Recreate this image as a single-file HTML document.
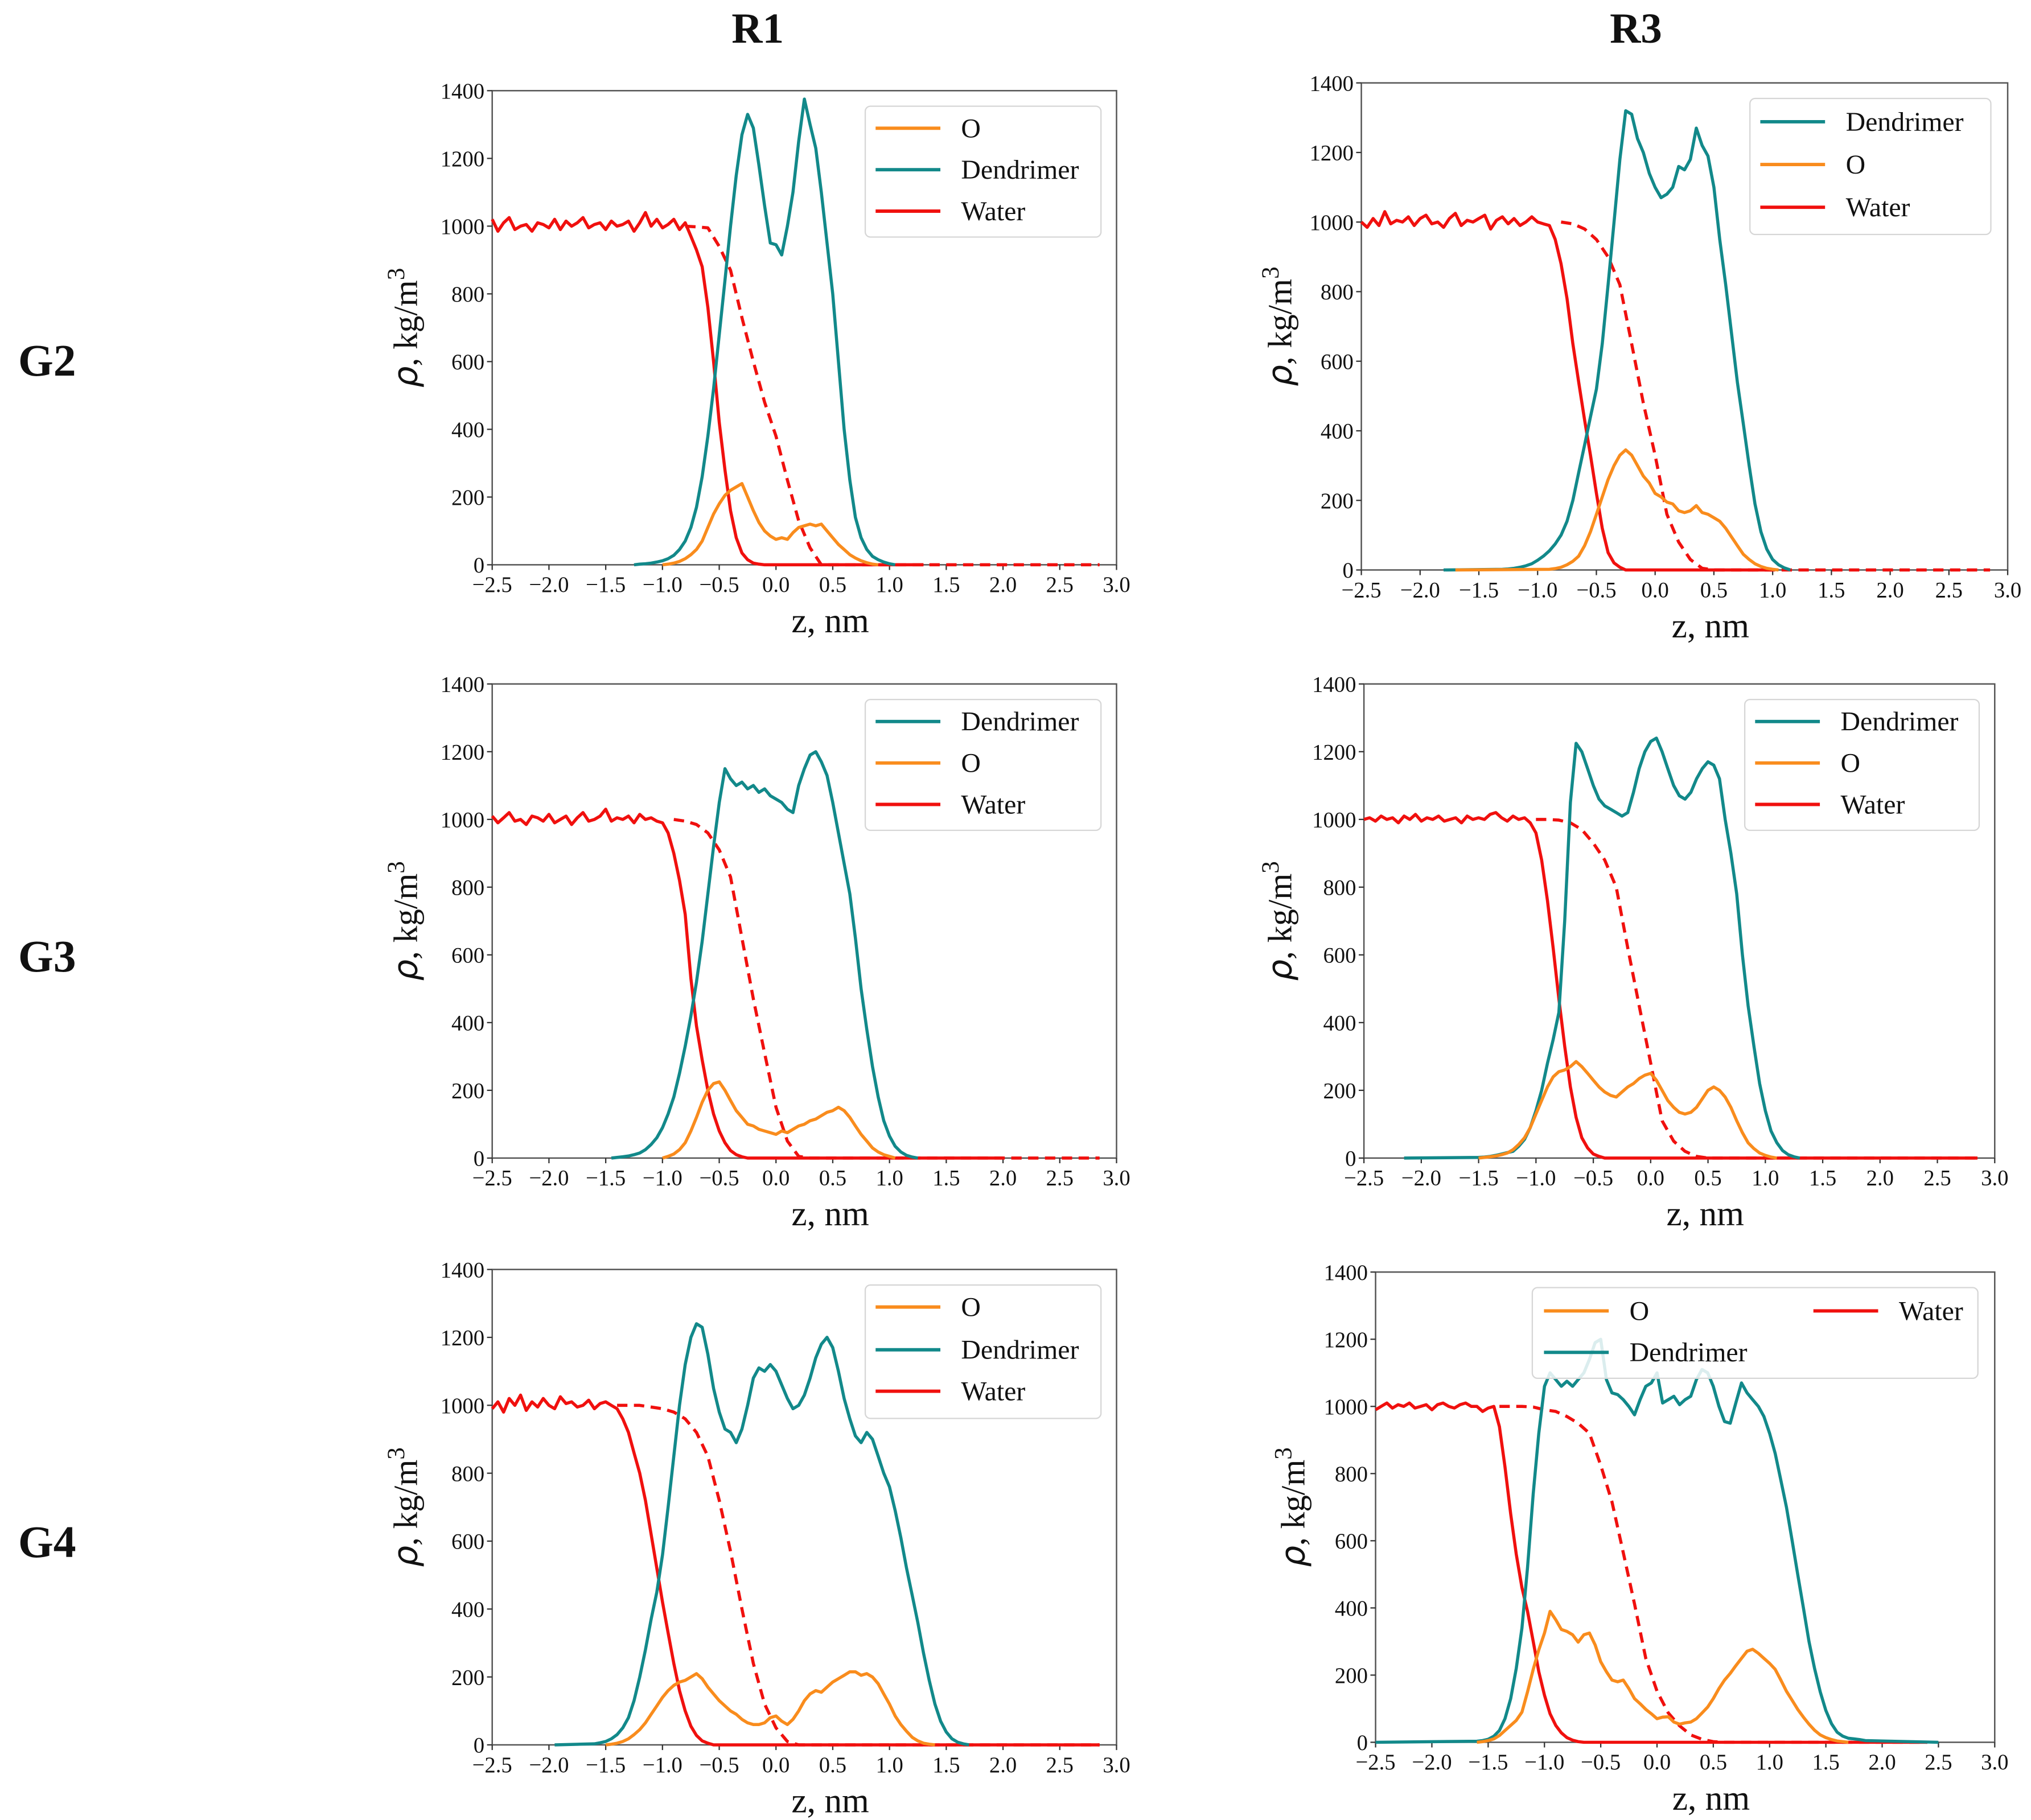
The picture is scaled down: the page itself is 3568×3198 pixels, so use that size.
<!DOCTYPE html>
<html><head><meta charset="utf-8"><style>
html,body{margin:0;padding:0;background:#fff;}
svg{display:block;}
text{font-family:"Liberation Serif",serif;fill:#111;}
</style></head>
<body>
<svg id="fig" xmlns="http://www.w3.org/2000/svg" width="3568" height="3198" viewBox="0 0 1568 1405" preserveAspectRatio="none">
<rect x="0" y="0" width="1568" height="1405" fill="#fff"/>
<text x="585" y="33" font-size="33" font-weight="bold" text-anchor="middle">R1</text>
<text x="1263" y="33" font-size="33" font-weight="bold" text-anchor="middle">R3</text>
<text x="14" y="290" font-size="35" font-weight="bold">G2</text>
<text x="14" y="750" font-size="35" font-weight="bold">G3</text>
<text x="14" y="1202" font-size="35" font-weight="bold">G4</text>
<g id="panels"></g>
</svg>
<script>
// ---------- DATA (z grid: start + 0.05 step; dashed: 0.1 step) ----------
const xTicks = [-2.5,-2.0,-1.5,-1.0,-0.5,0.0,0.5,1.0,1.5,2.0,2.5,3.0];
const yTicks = [0,200,400,600,800,1000,1200,1400];

// Panel 1: R1 G2
const p1Water = [1020,985,1010,1025,990,1000,1005,985,1010,1005,995,1020,990,1015,1000,1010,1025,995,1005,1010,990,1015,1000,1005,1015,985,1010,1040,1000,1020,995,1005,1020,990,1010,970,930,880,760,600,420,280,160,80,35,15,5,2,0];
const p1Dashed = [1000,998,995,940,870,730,600,480,380,250,130,50,0];
const p1Den = [0,2,3,5,8,12,18,28,45,70,110,170,260,380,520,680,840,1000,1150,1270,1330,1290,1180,1060,950,945,915,1000,1100,1250,1375,1300,1230,1100,950,800,600,400,250,140,80,45,25,15,8,3,0];
const p1O = [0,2,5,10,18,30,45,70,110,150,180,205,220,230,240,200,160,125,100,85,75,80,75,95,110,115,120,115,120,100,80,60,45,30,20,12,6,2,0];

// Panel 2: R3 G2
const p2Water = [1000,985,1010,990,1030,995,1005,1000,1015,990,1010,1020,995,1000,985,1010,1025,990,1005,1000,1010,1020,980,1005,1015,995,1010,990,1000,1015,1000,995,990,950,880,780,650,540,430,330,220,120,50,20,8,0];
const p2Dashed = [1000,995,980,950,900,820,650,480,330,160,80,30,5,0];
const p2Den = [2,3,5,8,12,18,28,40,55,75,100,140,200,280,360,440,520,650,820,1000,1180,1320,1310,1240,1200,1140,1100,1070,1080,1100,1160,1150,1180,1270,1220,1190,1100,950,820,680,540,420,300,190,110,60,30,15,6,0];
const p2O = [2,4,8,15,25,40,70,110,160,210,260,300,330,345,330,300,270,250,220,210,195,190,170,165,170,185,165,160,150,140,120,95,70,45,30,18,10,5,2,0];

// Panel 3: R1 G3
const p3Water = [1010,990,1005,1020,995,1000,985,1010,1005,995,1015,990,1000,1010,985,1005,1020,995,1000,1010,1030,995,1005,1000,1010,990,1015,1000,1005,995,990,960,900,820,720,530,390,290,200,130,80,45,22,10,4,0];
const p3Dashed = [1000,995,985,960,910,830,650,470,310,150,50,5,0];
const p3Den = [0,2,4,6,10,15,25,40,60,90,130,180,250,330,420,520,640,780,920,1050,1150,1120,1100,1110,1090,1100,1080,1090,1070,1060,1050,1030,1020,1100,1150,1190,1200,1170,1130,1050,960,870,780,650,500,380,270,180,110,65,35,18,8,3,0];
const p3O = [0,5,12,25,45,80,120,165,200,220,225,200,170,140,120,100,95,85,80,75,70,80,75,85,95,100,110,115,125,135,140,150,140,120,95,70,50,30,18,10,5,0];

// Panel 4: R3 G3
const p4Water = [1000,1005,995,1010,1000,1005,990,1010,1000,1015,995,1005,1000,1010,995,1000,1005,990,1010,1000,1005,1000,1015,1020,1005,995,1010,1000,1005,990,960,880,760,620,470,330,210,120,60,30,12,5,0];
const p4Dashed = [1000,1000,998,990,970,930,880,800,620,450,280,110,50,20,5,0];
const p4Den = [2,3,5,8,12,16,20,35,55,90,140,200,280,350,430,700,1050,1225,1200,1150,1100,1060,1040,1030,1020,1010,1020,1080,1150,1200,1230,1240,1200,1150,1100,1070,1060,1080,1120,1150,1170,1160,1120,1000,900,780,600,450,330,220,140,80,45,22,10,4,0];
const p4O = [0,2,4,6,10,15,25,40,60,90,130,170,210,240,255,260,270,285,270,250,230,210,195,185,180,195,210,220,235,245,250,230,200,170,150,135,130,135,150,175,200,210,200,180,150,110,75,45,28,15,8,3,0];

// Panel 5: R1 G4
const p5Water = [990,1010,980,1020,1000,1030,985,1010,995,1020,1000,990,1025,1005,1010,995,1000,1015,990,1005,1010,1000,990,960,920,860,800,720,620,520,420,330,240,160,100,55,28,12,5,0];
const p5Dashed = [1000,1000,1000,995,990,980,960,920,850,720,570,400,240,120,50,10,0];
const p5Den = [3,6,10,18,30,50,80,130,200,280,370,450,560,700,850,1000,1120,1200,1240,1230,1150,1050,980,930,920,890,930,1000,1080,1110,1100,1120,1100,1060,1020,990,1000,1030,1080,1140,1180,1200,1170,1100,1020,960,910,890,920,900,850,800,760,690,610,520,440,360,270,190,120,70,38,18,8,3,0];
const p5O = [0,2,5,10,18,30,45,65,90,115,140,160,175,185,190,200,210,195,170,150,130,115,100,90,75,65,60,60,65,80,85,70,60,75,100,130,150,160,155,170,185,195,205,215,215,205,210,200,180,150,120,85,60,40,22,12,5,2,0];

// Panel 6: R3 G4
const p6Water = [990,1000,1010,995,1005,1000,1010,995,1000,1005,990,1005,1010,1000,995,1005,1010,1000,1000,985,995,1000,940,820,680,560,460,390,300,210,140,85,50,28,14,6,2,0];
const p6Dashed = [1000,1000,1000,998,990,985,970,950,920,825,716,565,412,250,152,87,49,22,9,2,0];
const p6Den = [3,5,9,18,35,70,130,220,340,520,740,920,1060,1100,1080,1060,1075,1060,1080,1100,1140,1190,1200,1080,1040,1035,1020,1000,975,1020,1060,1070,1100,1010,1020,1030,1005,1020,1030,1080,1110,1100,1060,1000,955,950,1010,1070,1040,1020,1000,970,920,860,780,700,600,500,400,300,220,150,95,55,30,18,12,10,8,5];
const p6O = [0,2,5,10,20,35,50,65,90,150,217,275,325,390,365,336,330,320,298,320,325,290,240,210,185,180,185,160,130,115,98,85,70,75,76,60,54,58,60,70,87,105,130,160,185,205,228,250,271,277,265,250,235,217,185,152,125,98,75,54,36,22,14,8,4,2,0];

// ---------- LAYOUT ----------
const C_DEN = "#12898a", C_O = "#f98c1d", C_W = "#f0100e";
const panels = [
 {id:"r1-g2", l:380, r:862, t:70, b:436, ylx:322,
  series:[
   {name:"water-dashed", v:p1Dashed, z0:-0.8, dz:0.1, trail:2.85, c:C_W, dash:true},
   {name:"water", v:p1Water, z0:-2.5, dz:0.05, trail:1.3, c:C_W},
   {name:"dendrimer", v:p1Den, z0:-1.25, dz:0.05, c:C_DEN},
   {name:"o", v:p1O, z0:-1.0, dz:0.05, c:C_O}],
  legend:{x:668,y:82,w:182,h:101, items:[["O",C_O,676,99],["Dendrimer",C_DEN,676,131],["Water",C_W,676,163]]}},
 {id:"r3-g2", l:1051, r:1550, t:64, b:440, ylx:997,
  series:[
   {name:"water-dashed", v:p2Dashed, z0:-0.8, dz:0.1, trail:2.85, c:C_W, dash:true},
   {name:"water", v:p2Water, z0:-2.5, dz:0.05, trail:1.0, c:C_W},
   {name:"dendrimer", v:p2Den, z0:-1.3, dz:0.05, lead:-1.8, c:C_DEN},
   {name:"o", v:p2O, z0:-0.9, dz:0.05, lead:-1.7, c:C_O}],
  legend:{x:1351,y:76,w:186,h:105, items:[["Dendrimer",C_DEN,1359,94],["O",C_O,1359,127],["Water",C_W,1359,160]]}},
 {id:"r1-g3", l:380, r:862, t:528, b:894, ylx:322,
  series:[
   {name:"water-dashed", v:p3Dashed, z0:-0.9, dz:0.1, trail:2.85, c:C_W, dash:true},
   {name:"water", v:p3Water, z0:-2.5, dz:0.05, trail:2.0, c:C_W},
   {name:"dendrimer", v:p3Den, z0:-1.45, dz:0.05, c:C_DEN},
   {name:"o", v:p3O, z0:-1.0, dz:0.05, c:C_O}],
  legend:{x:668,y:540,w:182,h:101, items:[["Dendrimer",C_DEN,676,557],["O",C_O,676,589],["Water",C_W,676,621]]}},
 {id:"r3-g3", l:1053, r:1540, t:528, b:894, ylx:997,
  series:[
   {name:"water-dashed", v:p4Dashed, z0:-1.0, dz:0.1, trail:2.85, c:C_W, dash:true},
   {name:"water", v:p4Water, z0:-2.5, dz:0.05, trail:2.85, c:C_W},
   {name:"dendrimer", v:p4Den, z0:-1.5, dz:0.05, lead:-2.15, c:C_DEN},
   {name:"o", v:p4O, z0:-1.5, dz:0.05, c:C_O}],
  legend:{x:1347,y:540,w:181,h:101, items:[["Dendrimer",C_DEN,1355,557],["O",C_O,1355,589],["Water",C_W,1355,621]]}},
 {id:"r1-g4", l:380, r:862, t:980, b:1347, ylx:322,
  series:[
   {name:"water-dashed", v:p5Dashed, z0:-1.4, dz:0.1, trail:2.85, c:C_W, dash:true},
   {name:"water", v:p5Water, z0:-2.5, dz:0.05, trail:2.85, c:C_W},
   {name:"dendrimer", v:p5Den, z0:-1.6, dz:0.05, lead:-1.95, c:C_DEN},
   {name:"o", v:p5O, z0:-1.5, dz:0.05, c:C_O}],
  legend:{x:668,y:992,w:182,h:103, items:[["O",C_O,676,1009],["Dendrimer",C_DEN,676,1042],["Water",C_W,676,1074]]}},
 {id:"r3-g4", l:1062, r:1540, t:982, b:1345, ylx:1007,
  series:[
   {name:"water-dashed", v:p6Dashed, z0:-1.4, dz:0.1, trail:2.4, c:C_W, dash:true},
   {name:"water", v:p6Water, z0:-2.5, dz:0.05, trail:2.4, c:C_W},
   {name:"dendrimer", v:p6Den, z0:-1.6, dz:0.05, lead:-2.5, trail:2.5, c:C_DEN},
   {name:"o", v:p6O, z0:-1.6, dz:0.05, c:C_O}],
  legend:{x:1183,y:994,w:344,h:70, items:[["O",C_O,1192,1012],["Dendrimer",C_DEN,1192,1044],["Water",C_W,1400,1012]]}}
];

const NS = "http://www.w3.org/2000/svg";
function mk(tag, attrs, parent){
  const e = document.createElementNS(NS, tag);
  for (const k in attrs) e.setAttribute(k, attrs[k]);
  parent.appendChild(e);
  return e;
}
const root = document.getElementById("panels");
panels.forEach(p => {
  const g = mk("g", {}, root);
  
  
  const xs = z => p.l + (z + 2.5) / 5.5 * (p.r - p.l);
  const ys = v => p.b - v / 1400 * (p.b - p.t);
  const fr = mk("rect", {x:p.l, y:p.t, width:p.r-p.l, height:p.b-p.t, fill:"none", stroke:"#555", "stroke-width":1.1}, g);
  
  
  xTicks.forEach(t => {
    const x = xs(t);
    mk("line", {x1:x, x2:x, y1:p.b, y2:p.b+4, stroke:"#333", "stroke-width":1}, g);
    const lab = mk("text", {x:x, y:p.b+21, "font-size":17, "text-anchor":"middle"}, g);
    
    
    lab.textContent = (t < 0 ? "\u2212" : "") + Math.abs(t).toFixed(1);
  });
  yTicks.forEach(t => {
    const y = ys(t);
    mk("line", {x1:p.l-4, x2:p.l, y1:y, y2:y, stroke:"#333", "stroke-width":1}, g);
    const lab = mk("text", {x:p.l-6, y:y+6, "font-size":17, "text-anchor":"end"}, g);
    
    
    lab.textContent = String(t);
  });
  const xl = mk("text", {x:(p.l+p.r)/2 + 20, y:p.b+52, "font-size":27, "text-anchor":"middle"}, g);
  
  
  xl.textContent = "z, nm";
  const yl = mk("text", {x:0, y:0, "font-size":26, "text-anchor":"middle", transform:"translate(" + p.ylx + "," + ((p.t+p.b)/2) + ") rotate(-90)"}, g);
  
  
  const t1 = mk("tspan", {"font-style":"italic", "font-family":"DejaVu Sans, sans-serif"}, yl); t1.textContent = "\u03C1";
  const t2 = mk("tspan", {}, yl); t2.textContent = ", kg/m";
  const t3 = mk("tspan", {dy:-10, "font-size":19}, yl); t3.textContent = "3";
  p.series.forEach(s => {
    const pts = [];
    if (s.lead !== undefined) pts.push([s.lead, 0]);
    s.v.forEach((v, i) => pts.push([s.z0 + i * s.dz, v]));
    if (s.trail !== undefined) pts.push([s.trail, 0]);
    const d = pts.map((q, i) => (i ? "L" : "M") + xs(q[0]).toFixed(1) + "," + ys(q[1]).toFixed(1)).join("");
    const a = {d:d, fill:"none", stroke:s.c, "stroke-width":2.4, "stroke-linejoin":"round"};
    if (s.dash) a["stroke-dasharray"] = "8,5";
    const path = mk("path", a, g);
    
    
  });
  const L = p.legend;
  const lg = mk("g", {}, g);
  
  
  mk("rect", {x:L.x, y:L.y, width:L.w, height:L.h, rx:4, fill:"#fff", "fill-opacity":0.85, stroke:"#d6d6d6", "stroke-width":1}, lg);
  L.items.forEach(it => {
    const e = mk("g", {}, lg);
    
    
    mk("line", {x1:it[2], x2:it[2]+50, y1:it[3], y2:it[3], stroke:it[1], "stroke-width":2.6}, e);
    const tx = mk("text", {x:it[2]+66, y:it[3]+7, "font-size":21}, e);
    tx.textContent = it[0];
  });
});
</script>
</body></html>
